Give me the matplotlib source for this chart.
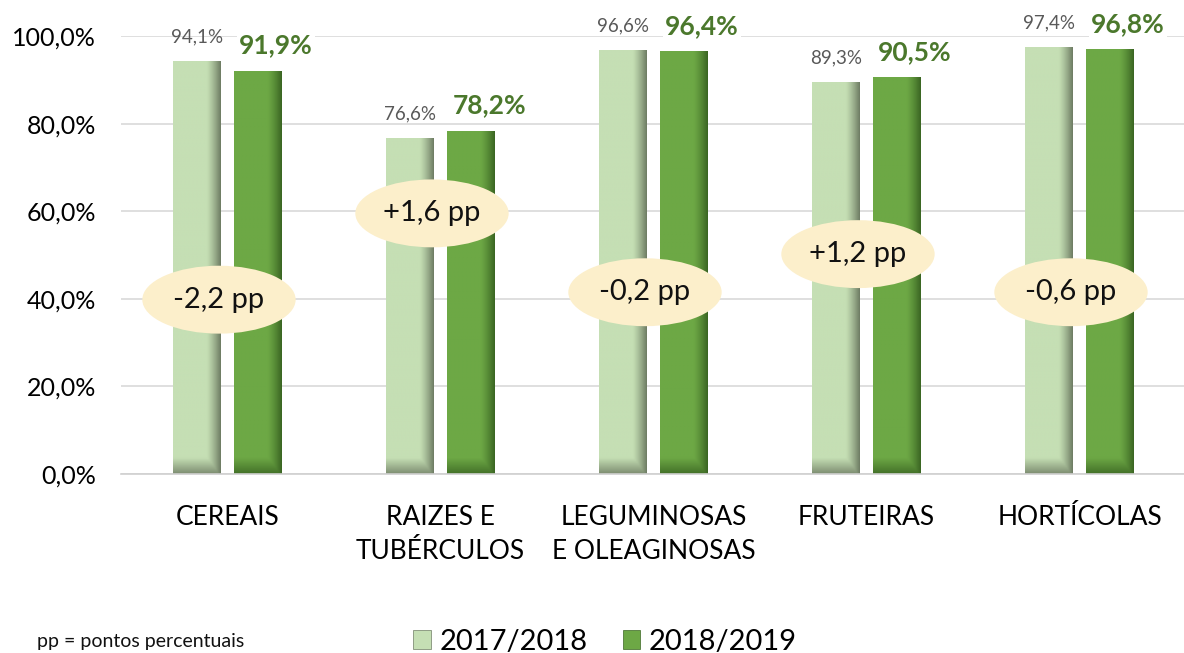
import numpy as np
import matplotlib.pyplot as plt
from matplotlib.patches import Ellipse, Rectangle
from matplotlib.colors import to_rgb

plt.rcParams['font.family'] = ['Lato', 'DejaVu Sans']

categories = ["CEREAIS", "RAIZES E\nTUBÉRCULOS", "LEGUMINOSAS\nE OLEAGINOSAS", "FRUTEIRAS", "HORTÍCOLAS"]
s2017 = [94.1, 76.6, 96.6, 89.3, 97.4]
s2018 = [91.9, 78.2, 96.4, 90.5, 96.8]
diff_labels = ["-2,2 pp", "+1,6 pp", "-0,2 pp", "+1,2 pp", "-0,6 pp"]
diff_pos = [39.8, 59.5, 41.5, 50.2, 41.5]
series_names = ["2017/2018", "2018/2019"]
yticks = [0, 20, 40, 60, 80, 100]

c_light = "#C5DFB4"
c_light_edge = "#6F7D64"
c_dark = "#6DA845"
c_dark_edge = "#3B6623"


def pct(v):
    return f"{v:.1f}%".replace(".", ",")


def shaded_bar(ax, x0, width, height, base, edge):
    # bar with darker right edge and bottom, like the Excel bevel
    base = np.array(to_rgb(base))
    edge = np.array(to_rgb(edge))
    nx, ny = 60, 200
    u = np.linspace(0, 1, nx)
    dx = np.clip((u - 0.7) / 0.3, 0, 1) ** 1.3
    yv = np.linspace(height, 0, ny)
    dy = np.clip((3.5 - yv) / 3.5, 0, 1) * 0.8
    d = np.maximum(dx[None, :], dy[:, None])
    img = base[None, None, :] * (1 - d[..., None]) + edge[None, None, :] * d[..., None]
    ax.imshow(img, extent=(x0, x0 + width, 0, height), aspect="auto",
              interpolation="bilinear", zorder=2)


fig = plt.figure(figsize=(11.84, 6.53), dpi=100)
ax = fig.add_axes([0.1022, 0.2741, 0.8995, 0.6708])

x = np.arange(len(categories))
bw = 0.222
off = 0.143
for i in x:
    shaded_bar(ax, i - off - bw / 2, bw, s2017[i], c_light, c_light_edge)
    shaded_bar(ax, i + off - bw / 2, bw, s2018[i], c_dark, c_dark_edge)
    ax.text(i - off, s2017[i] + 5.6, pct(s2017[i]), ha="center", va="center",
            fontsize=13.5, color="#595959", zorder=4)
    ax.text(i + off + 0.085, s2018[i] + 5.9, pct(s2018[i]), ha="center", va="center",
            fontsize=19, fontweight="bold", color="#4B782C", zorder=4,
            bbox=dict(facecolor="white", edgecolor="none", pad=1.5))
    ax.add_patch(Ellipse((i - 0.04, diff_pos[i]), 0.72, 15.5, facecolor="#FCEFCB",
                         edgecolor="none", zorder=5))
    ax.text(i - 0.04, diff_pos[i], diff_labels[i], ha="center", va="center",
            fontsize=21, color="#111111", zorder=6)

ax.set_xlim(-0.5, 4.5)
ax.set_ylim(0, 100)
ax.set_yticks(yticks)
ax.set_yticklabels([pct(v) for v in yticks], fontsize=18)
ax.set_xticks(x)
ax.set_xticklabels(categories, fontsize=19, linespacing=1.45)
ax.tick_params(axis="both", length=0)
ax.tick_params(axis="x", pad=22)
ax.tick_params(axis="y", pad=18)
ax.grid(axis="y", color="#D9D9D9", linewidth=1.2, zorder=0)
ax.set_axisbelow(True)
for s in ["top", "right", "left"]:
    ax.spines[s].set_visible(False)
ax.spines["bottom"].set_color("#D0D0D0")
ax.spines["bottom"].set_linewidth(1.2)

handles = [Rectangle((0, 0), 1, 1, facecolor=c_light, edgecolor=c_light_edge, linewidth=0.5),
           Rectangle((0, 0), 1, 1, facecolor=c_dark, edgecolor=c_dark_edge, linewidth=0.5)]
fig.legend(handles, series_names, loc="center", bbox_to_anchor=(0.511, 0.017),
           ncol=2, frameon=False, fontsize=21, handlelength=0.6, handleheight=0.6,
           handletextpad=0.3, columnspacing=1.2, borderpad=0)
fig.text(0.031, 0.018, "pp = pontos percentuais", fontsize=14, va="center", color="#111111")

fig.savefig("out.png", dpi=100)
